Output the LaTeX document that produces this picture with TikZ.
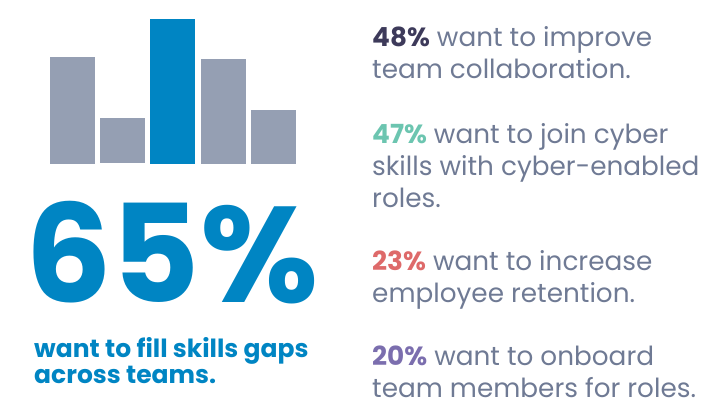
\documentclass[tikz,border=0pt]{standalone}
\usepackage{fontspec}
\setmainfont{Poppins}
\usetikzlibrary{positioning}
\definecolor{bargray}{HTML}{959FB3}
\definecolor{barblue}{HTML}{0085C3}
\definecolor{txtgray}{HTML}{6F7A94}
\definecolor{pctdark}{HTML}{3D3A5A}
\definecolor{pctteal}{HTML}{6CC5B0}
\definecolor{pctred}{HTML}{DE6A6A}
\definecolor{pctpurple}{HTML}{7B6EAE}
\tikzset{
  stat/.style={anchor=base west, inner sep=0pt, align=left, text=txtgray,
    font=\fontsize{26.3}{32}\selectfont},
}
\begin{document}
\begin{tikzpicture}[x=1pt, y=1pt]
			%%%%% START %%%%%
			\useasboundingbox (0, 0) rectangle (717, -397);
			
			\fill[bargray] (50, -57) rectangle (95, -164);
			\fill[bargray] (100, -118) rectangle (145, -163);
			\fill[barblue] (150, -19) rectangle (195, -164);
			\fill[bargray] (201, -59) rectangle (246, -164);
			\fill[bargray] (251, -110) rectangle (296, -164);
			
			\node[anchor=base west, inner sep=0pt, text depth=0pt, text=barblue, font=\fontsize{136}{136}\bfseries] (big) at (25, -302) {65\%};
			\node[anchor=base west, inner sep=0pt, align=left, text=barblue, font=\fontsize{25}{26}\bfseries] (gaps) at (34, -383) {want to fill skills gaps\\across teams.};
			
			\node[stat] (s48) at (372, -78) {\textcolor{pctdark}{\bfseries 48\%} want to improve\\team collaboration.};
			\node[stat] (s47) at (372, -207) {\textcolor{pctteal}{\bfseries 47\%} want to join cyber\\skills with cyber-enabled\\roles.};
			\node[stat] (s23) at (372, -302) {\textcolor{pctred}{\bfseries 23\%} want to increase\\employee retention.};
			\node[stat] (s20) at (372, -397) {\textcolor{pctpurple}{\bfseries 20\%} want to onboard\\team members for roles.};
			
			%%%%% END %%%%%
		\end{tikzpicture}
\end{document}
